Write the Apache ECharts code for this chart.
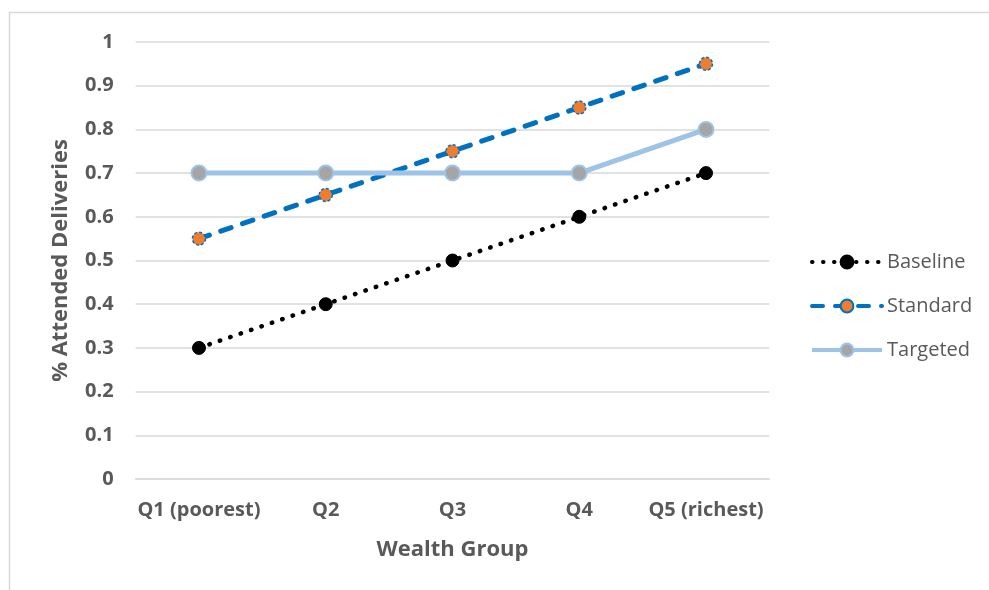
<!DOCTYPE html>
<html><head><meta charset="utf-8">
<script src="https://cdn.jsdelivr.net/npm/echarts@6/dist/echarts.min.js"></script>
<style>html,body{margin:0;padding:0;background:#fff}#c{width:989px;height:590px}</style>
</head><body><div id="c"></div>
<script>
var categories = ['Q1 (poorest)', 'Q2', 'Q3', 'Q4', 'Q5 (richest)'];
var baseline = [0.3, 0.4, 0.5, 0.6, 0.7];
var standard = [0.55, 0.65, 0.75, 0.85, 0.95];
var targeted = [0.7, 0.7, 0.7, 0.7, 0.8];
var seriesNames = ['Baseline', 'Standard', 'Targeted'];

var font = '"Open Sans", "Liberation Sans", sans-serif';
var chart = echarts.init(document.getElementById('c'), null, {renderer: 'canvas'});
chart.setOption({
  animation: false,
  backgroundColor: '#fff',
  graphic: [{type: 'rect', shape: {x: 9.5, y: 12.5, width: 1000, height: 600}, style: {fill: 'none', stroke: '#d9d9d9', lineWidth: 1.5}, silent: true}],
  grid: {left: 135.6, right: 219.6, top: 42, bottom: 111, containLabel: false},
  legend: {
    orient: 'vertical', left: 805, top: 247, itemGap: 24, itemWidth: 70, itemHeight: 16,
    textStyle: {fontFamily: font, fontSize: 20, color: '#595959'},
    lineStyle: {width: 4},
    data: seriesNames
  },
  xAxis: {
    type: 'category', data: categories, boundaryGap: true,
    axisLine: {show: true, lineStyle: {color: '#d9d9d9', width: 1.5}},
    axisTick: {show: false},
    axisLabel: {fontFamily: font, fontSize: 20, fontWeight: 'bold', color: '#595959', margin: 21, interval: 0},
    name: 'Wealth Group', nameLocation: 'middle', nameGap: 60,
    nameTextStyle: {fontFamily: font, fontSize: 22, fontWeight: 'bold', color: '#595959'}
  },
  yAxis: {
    type: 'value', min: 0, max: 1, interval: 0.1,
    axisLine: {show: false}, axisTick: {show: false},
    splitLine: {lineStyle: {color: '#d9d9d9', width: 1.5}},
    axisLabel: {fontFamily: font, fontSize: 20, fontWeight: 'bold', color: '#595959', margin: 22,
      formatter: function (v) { return +v.toFixed(1) + ''; }},
    name: '% Attended Deliveries', nameLocation: 'middle', nameGap: 64,
    nameTextStyle: {fontFamily: font, fontSize: 22, fontWeight: 'bold', color: '#595959'}
  },
  series: [
    {name: 'Baseline', type: 'line', data: baseline, symbol: 'circle', symbolSize: 13,
      lineStyle: {color: '#000', width: 4.5, type: [0.5, 10.5], cap: 'round'},
      itemStyle: {color: '#000', borderColor: '#000', borderWidth: 1}, z: 3},
    {name: 'Standard', type: 'line', data: standard, symbol: 'circle', symbolSize: 13,
      lineStyle: {color: '#0070C0', width: 5, type: [11, 12], cap: 'round'},
      itemStyle: {color: '#ED7D31', borderColor: '#0070C0', borderWidth: 1.5, borderType: [3, 2]}, z: 4},
    {name: 'Targeted', type: 'line', data: targeted, symbol: 'circle', symbolSize: 15,
      lineStyle: {color: '#9DC3E6', width: 5},
      itemStyle: {color: '#A5A5A5', borderColor: '#9DC3E6', borderWidth: 2}, z: 5}
  ]
});
</script></body></html>
